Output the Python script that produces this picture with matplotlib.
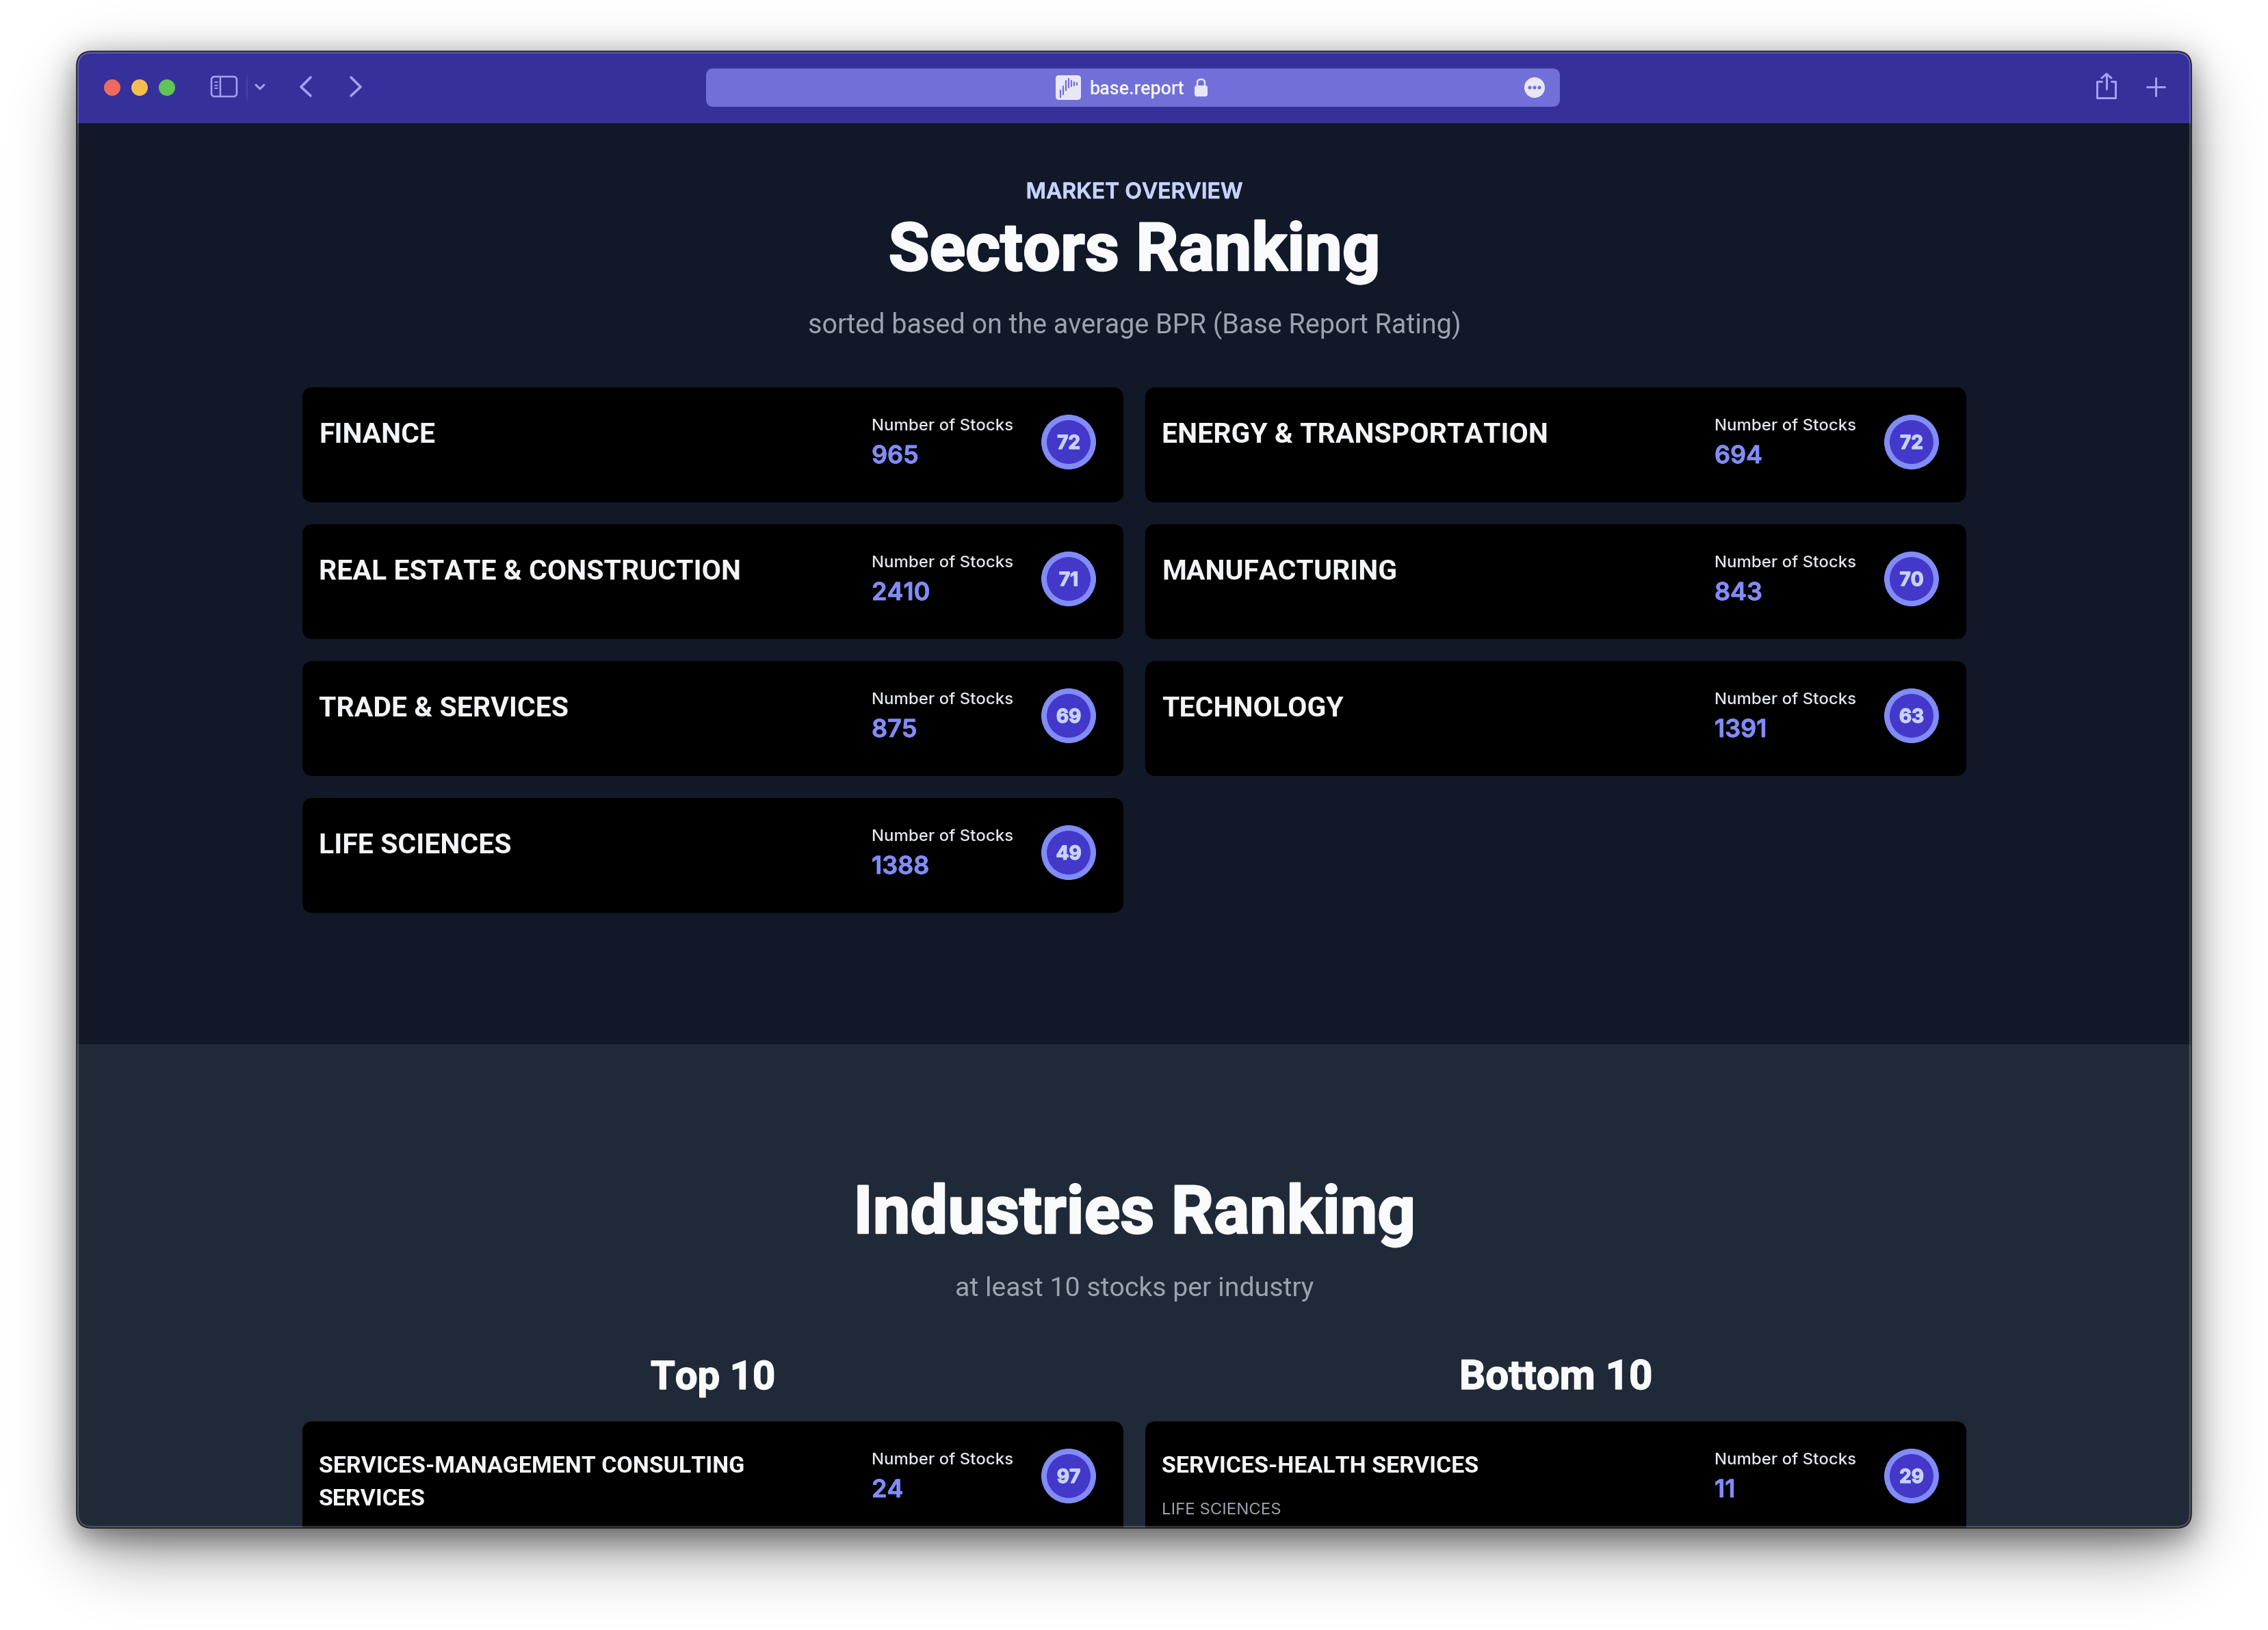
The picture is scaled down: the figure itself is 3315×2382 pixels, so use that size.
import math
import matplotlib
matplotlib.use('Agg')
import matplotlib.pyplot as plt
import matplotlib.patheffects as pe
import numpy as np
from matplotlib.patches import FancyBboxPatch, Rectangle, Circle

plt.rcParams['font.family'] = ['Inter', 'DejaVu Sans']

# card contents
sectors = ['FINANCE', 'ENERGY & TRANSPORTATION', 'REAL ESTATE & CONSTRUCTION', 'MANUFACTURING',
           'TRADE & SERVICES', 'TECHNOLOGY', 'LIFE SCIENCES']
sector_stocks = [965, 694, 2410, 843, 875, 1391, 1388]
sector_scores = [72, 72, 71, 70, 69, 63, 49]

top_name = ['SERVICES-MANAGEMENT CONSULTING', 'SERVICES']
top_stocks = 24
top_score = 97
bottom_name = 'SERVICES-HEALTH SERVICES'
bottom_sector = 'LIFE SCIENCES'
bottom_stocks = 11
bottom_score = 29

W, H = 3316, 2382
WIN_L, WIN_R, WIN_T, WIN_B = 112, 3203, 75, 2233
CARD_W = 1200
COL_X = [442, 1674]
ICON = '#a5a0fb'
PX = 0.72  # px to pt at dpi 100

fig = plt.figure(figsize=(W / 100, H / 100), dpi=100)
ax = fig.add_axes([0, 0, 1, 1])


def erf(a):
    return np.array([math.erf(v) for v in a])


def soft_box(l, r, t, b, s):
    xs = np.arange(W)
    ys = np.arange(H)
    return np.outer(0.5 * (erf((ys - t) / s) - erf((ys - b) / s)), 0.5 * (erf((xs - l) / s) - erf((xs - r) / s)))


# window shadow, wide layer plus tight layer
shadow = (1 - 0.45 * soft_box(125, 3190, 118, 2262, 70)) * (1 - 0.42 * soft_box(112, 3203, 85, 2245, 30))
ax.imshow(shadow, cmap='gray', vmin=0, vmax=1, extent=(0, W, H, 0), aspect='auto', zorder=0)
ax.set_xlim(0, W)
ax.set_ylim(H, 0)
ax.axis('off')


def rbox(x, y, w, h, r, color, **kw):
    p = FancyBboxPatch((x, y), w, h, boxstyle=f'round,pad=0,rounding_size={r}',
                       facecolor=color, edgecolor='none', **kw)
    ax.add_patch(p)
    return p


window = rbox(WIN_L, WIN_T, WIN_R - WIN_L, WIN_B - WIN_T, 22, '#111827', zorder=1)


def clipped(p):
    p.set_clip_path(window)
    return p


clipped(ax.add_patch(Rectangle((WIN_L, WIN_T), WIN_R - WIN_L, 105, color='#36309b', lw=0, zorder=1.1)))
clipped(ax.add_patch(Rectangle((WIN_L, 1526), WIN_R - WIN_L, WIN_B - 1526, color='#202937', lw=0, zorder=1.1)))


def line(x, y, lw=3.6, color=ICON):
    ax.plot(x, y, color=color, lw=lw * PX, solid_capstyle='round', solid_joinstyle='round', zorder=3)


# traffic lights
for cx, c in zip([164, 204, 244], ['#ee6a5e', '#f5bd4f', '#61c454']):
    ax.add_patch(Circle((cx, 128), 12, color=c, lw=0, zorder=3))

# sidebar icon
ax.add_patch(FancyBboxPatch((309, 112), 37, 29, boxstyle='round,pad=0,rounding_size=5', facecolor='none',
                            edgecolor=ICON, lw=2.6 * PX, zorder=3))
line([322, 322], [112, 141], 2.4)
for yy in [120, 125, 129]:
    line([314, 318], [yy, yy], 1.8)
line([361, 361], [111, 146], 1.6, '#4a44b0')
line([374, 380, 386], [124, 130, 124], 3)
line([454, 440, 454], [113, 127, 140])
line([513, 527, 513], [113, 127, 140])

# share and plus
line([3072, 3065, 3065, 3092, 3092, 3086], [119, 119, 143, 143, 119, 119], 3)
line([3079, 3079], [108, 130], 3)
line([3072, 3079, 3086], [114, 108, 114], 3)
line([3138, 3164], [127, 127], 3)
line([3151, 3151], [114, 140], 3)

# url bar
rbox(1032, 100, 1248, 56, 11, '#736fd9', zorder=2)
rbox(1543, 110, 37, 36, 5, '#e8e6fa', zorder=3)
for bx, bt, bb in [(1550, 132, 142), (1554, 126, 138), (1558, 118, 132), (1562, 115, 128), (1566, 118, 126),
                   (1570, 120, 125), (1574, 121, 124)]:
    line([bx, bx], [bt, bb], 2.2, '#736fd9')
ax.text(1592, 138, 'base.report', color='#f3f4f6', fontsize=27 * PX, weight='medium', va='baseline', zorder=3,
        family='Roboto')
rbox(1746, 125, 19, 16, 3, '#e8e6fa', zorder=3)
ax.add_patch(FancyBboxPatch((1750, 116), 11, 16, boxstyle='round,pad=0,rounding_size=5', facecolor='none',
                            edgecolor='#e8e6fa', lw=2.4 * PX, zorder=3))
ax.add_patch(Circle((2243, 128), 15, color='#e8e6fa', lw=0, zorder=3))
for dx in [-7, 0, 7]:
    ax.add_patch(Circle((2243 + dx, 128), 2.6, color='#736fd9', lw=0, zorder=4))


def ctext(y, s, size, color, weight, x=1658, family='Roboto', stroke=0):
    t = ax.text(x, y, s, color=color, fontsize=size * PX, weight=weight, ha='center', va='baseline', zorder=3,
                family=family)
    if stroke:
        t.set_path_effects([pe.withStroke(linewidth=stroke * PX, foreground=color)])


# headings
ctext(290, 'MARKET OVERVIEW', 32, '#c7d2fe', 'semibold', family='Inter', stroke=0.6)
ctext(395, 'Sectors Ranking', 97.5, '#f9fafb', 'bold', stroke=2.5)
ctext(488, 'sorted based on the average BPR (Base Report Rating)', 39.5, '#9ca3af', 'normal')
ctext(1802, 'Industries Ranking', 97.5, '#f9fafb', 'bold', stroke=2.5)
ctext(1894, 'at least 10 stocks per industry', 39.3, '#9ca3af', 'normal')
ctext(2030, 'Top 10', 58, '#f9fafb', 'bold', x=1042, stroke=1.5)
ctext(2030, 'Bottom 10', 60, '#f9fafb', 'bold', x=2274, stroke=1.5)


def card(x, y, names, stocks, score, name_size, name_y, sub=None):
    clipped(rbox(x, y, CARD_W, 168 if y < 1500 else 230, 16, '#000000', zorder=2))
    for i, n in enumerate(names):
        ax.text(x + 24, y + name_y + i * 48, n, color='#f3f4f6', fontsize=name_size * PX, weight='bold',
                family='Roboto', va='baseline', zorder=3)
    if sub:
        ax.text(x + 24, y + 136, sub, color='#9ca3af', fontsize=24 * PX, va='baseline', zorder=3)
    ax.text(x + 832, y + 63, 'Number of Stocks', color='#e5e7eb', fontsize=24 * PX, weight='medium',
            va='baseline', zorder=3)
    v = ax.text(x + 832, y + 111, str(stocks), color='#818cf8', fontsize=36 * PX, weight='semibold',
                va='baseline', zorder=3)
    v.set_path_effects([pe.withStroke(linewidth=0.8 * PX, foreground='#818cf8')])
    ax.add_patch(Circle((x + 1120, y + 80), 36, facecolor='#4338ca', edgecolor='#818cf8', lw=8 * PX, zorder=3))
    n = ax.text(x + 1120, y + 90, str(score), color='#c7d2fe', fontsize=28 * PX, weight='bold', ha='center',
                va='baseline', zorder=4)
    n.set_path_effects([pe.withStroke(linewidth=1.4 * PX, foreground='#c7d2fe')])


for i, (n, s, v) in enumerate(zip(sectors, sector_stocks, sector_scores)):
    card(COL_X[i % 2], 566 + 200 * (i // 2), [n], s, v, 41, 81)

card(COL_X[0], 2077, top_name, top_stocks, top_score, 34, 75)
card(COL_X[1], 2077, [bottom_name], bottom_stocks, bottom_score, 34, 75, sub=bottom_sector)

# window outline, light inner edge and thin dark outer edge
ax.add_patch(FancyBboxPatch((WIN_L + 2, WIN_T + 2), WIN_R - WIN_L - 4, WIN_B - WIN_T - 4,
                            boxstyle='round,pad=0,rounding_size=20', facecolor='none',
                            edgecolor=(1, 1, 1, 0.2), lw=2.4 * PX, zorder=5))
ax.add_patch(FancyBboxPatch((WIN_L, WIN_T), WIN_R - WIN_L, WIN_B - WIN_T, boxstyle='round,pad=0,rounding_size=22',
                            facecolor='none', edgecolor='#26262a', lw=1.8 * PX, zorder=5))

fig.savefig('out.png', dpi=100)
